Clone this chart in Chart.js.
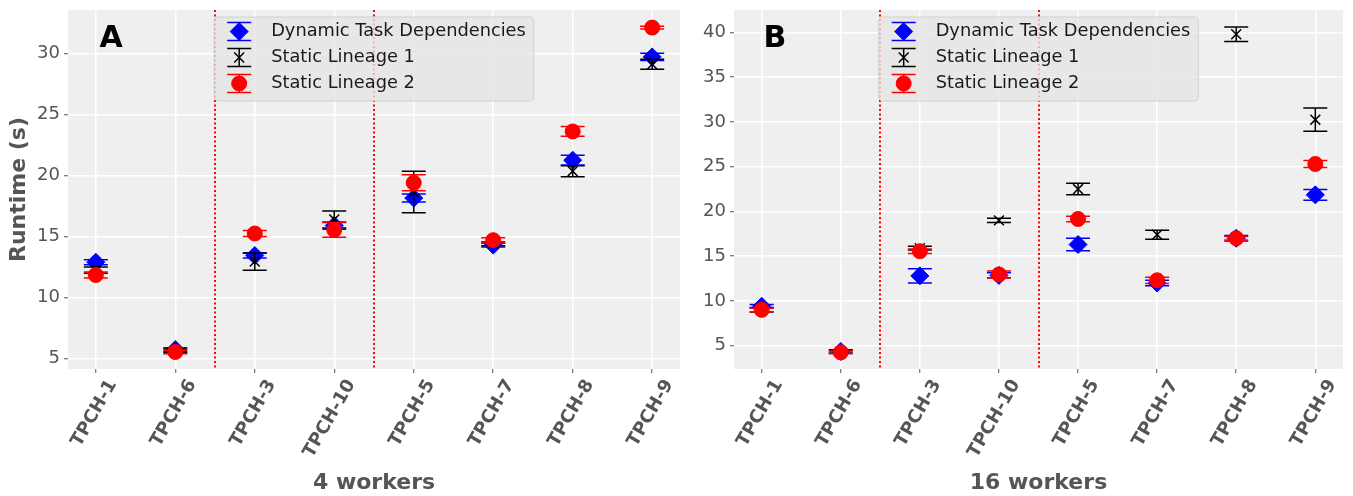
<!DOCTYPE html>
<html>
<head>
<meta charset="utf-8">
<script src="https://cdn.jsdelivr.net/npm/chart.js@4.4.0/dist/chart.umd.min.js"></script>
<style>
  body { margin: 0; background: #fff; }
  canvas { position: absolute; top: 0; }
  #chartA { left: 0; }
  #chartB { left: 690px; }
</style>
</head>
<body>
<canvas id="chartA" width="690" height="496"></canvas>
<canvas id="chartB" width="663" height="496"></canvas>
<script>
// categories and legend
const queries = ['TPCH-1', 'TPCH-6', 'TPCH-3', 'TPCH-10', 'TPCH-5', 'TPCH-7', 'TPCH-8', 'TPCH-9'];
const seriesNames = ['Dynamic Task Dependencies', 'Static Lineage 1', 'Static Lineage 2'];
const separators = [1.5, 3.5];

// 4 workers (runtime in s, error = half bar)
const dynamic4 = [12.9, 5.75, 13.45, 15.9, 18.15, 14.3, 21.25, 29.7];
const dynamic4Err = [0.2, 0.15, 0.2, 0.3, 0.33, 0.15, 0.4, 0.3];
const static1W4 = [12.25, 5.65, 12.95, 16.4, 18.65, 14.4, 20.35, 29.1];
const static1W4Err = [0.25, 0.15, 0.7, 0.7, 1.7, 0.15, 0.45, 0.4];
const static2W4 = [11.85, 5.55, 15.25, 15.55, 19.4, 14.7, 23.6, 32.1];
const static2W4Err = [0.25, 0.15, 0.25, 0.6, 0.65, 0.2, 0.4, 0.12];
const yTicksA = [5, 10, 15, 20, 25, 30];

// 16 workers
const dynamic16 = [9.4, 4.35, 12.8, 12.85, 16.3, 12.0, 17.0, 21.85];
const dynamic16Err = [0.2, 0.2, 0.8, 0.3, 0.7, 0.3, 0.3, 0.6];
const static1W16 = [9.0, 4.3, 15.9, 19.0, 22.5, 17.4, 39.8, 30.25];
const static1W16Err = [0.25, 0.15, 0.2, 0.25, 0.65, 0.5, 0.8, 1.3];
const static2W16 = [9.0, 4.25, 15.55, 12.95, 19.15, 12.3, 17.0, 25.3];
const static2W16Err = [0.2, 0.15, 0.25, 0.4, 0.3, 0.35, 0.2, 0.4];
const yTicksB = [5, 10, 15, 20, 25, 30, 35, 40];

const FONT = '"DejaVu Sans", sans-serif';
const styles = [
  { color: '#0000ff', pointStyle: 'rectRot', radius: 9, borderWidth: 1 },
  { color: '#000000', pointStyle: 'crossRot', radius: 7, borderWidth: 1.5 },
  { color: '#ff0000', pointStyle: 'circle', radius: 7.5, borderWidth: 1 }
];

// plot background
const bgPlugin = {
  id: 'bg',
  beforeDraw(chart) {
    const { ctx, chartArea: a } = chart;
    ctx.save();
    ctx.fillStyle = '#efefef';
    ctx.fillRect(a.left, a.top, a.right - a.left, a.bottom - a.top);
    ctx.restore();
  }
};

// red dotted separators between query groups
const separatorPlugin = {
  id: 'separators',
  beforeDatasetsDraw(chart) {
    const { ctx, chartArea: a } = chart;
    const xs = chart.scales.x;
    ctx.save();
    ctx.strokeStyle = '#ff0000';
    ctx.lineWidth = 2;
    ctx.setLineDash([2, 2.5]);
    separators.forEach(s => {
      const px = Math.round(xs.getPixelForValue(s));
      ctx.beginPath();
      ctx.moveTo(px, a.top);
      ctx.lineTo(px, a.bottom);
      ctx.stroke();
    });
    ctx.restore();
  }
};

// error bars under each dataset's markers
const errorBarPlugin = {
  id: 'errorBars',
  beforeDatasetDraw(chart, args) {
    const ds = chart.data.datasets[args.index];
    const xs = chart.scales.x, ys = chart.scales.y;
    const ctx = chart.ctx;
    ctx.save();
    ctx.strokeStyle = ds.borderColor;
    ctx.lineWidth = 1.5;
    ds.data.forEach((p, i) => {
      const e = ds.errors[i];
      const px = xs.getPixelForValue(p.x);
      const top = ys.getPixelForValue(p.y + e);
      const bot = ys.getPixelForValue(p.y - e);
      ctx.beginPath();
      ctx.moveTo(px, top); ctx.lineTo(px, bot);
      ctx.moveTo(px - 12, top); ctx.lineTo(px + 12, top);
      ctx.moveTo(px - 12, bot); ctx.lineTo(px + 12, bot);
      ctx.stroke();
    });
    ctx.restore();
  }
};

// matplotlib-like legend with errorbar glyphs, upper center
const legendPlugin = {
  id: 'errLegend',
  afterDatasetsDraw(chart) {
    const { ctx, chartArea: a } = chart;
    ctx.save();
    ctx.font = '17.8px ' + FONT;
    const tw = Math.max(...seriesNames.map(n => ctx.measureText(n).width));
    const w = 57 + tw + 8, h = 84;
    const left = (a.left + a.right) / 2 - w / 2, top = a.top + 7;
    ctx.beginPath();
    ctx.roundRect(left, top, w, h, 4);
    ctx.fillStyle = 'rgba(229,229,229,0.8)';
    ctx.fill();
    ctx.strokeStyle = 'rgba(204,204,204,0.8)';
    ctx.lineWidth = 1;
    ctx.stroke();
    seriesNames.forEach((name, k) => {
      const st = styles[k];
      const cy = top + 14.5 + k * 26;
      const cx = left + 25;
      ctx.strokeStyle = st.color;
      ctx.fillStyle = st.color;
      ctx.lineWidth = 1.5;
      ctx.beginPath();
      ctx.moveTo(cx, cy - 9); ctx.lineTo(cx, cy + 9);
      ctx.moveTo(cx - 12, cy - 9); ctx.lineTo(cx + 12, cy - 9);
      ctx.moveTo(cx - 12, cy + 9); ctx.lineTo(cx + 12, cy + 9);
      ctx.stroke();
      ctx.lineWidth = st.borderWidth;
      Chart.helpers.drawPoint(ctx, { pointStyle: st.pointStyle, radius: st.radius, rotation: 0, borderWidth: st.borderWidth }, cx, cy);
      ctx.fillStyle = '#1a1a1a';
      ctx.textBaseline = 'middle';
      ctx.textAlign = 'left';
      ctx.fillText(name, left + 57, cy);
    });
    ctx.restore();
  }
};

// panel letter
const letterPlugin = {
  id: 'letter',
  afterDraw(chart, args, opts) {
    const { ctx, chartArea: a } = chart;
    ctx.save();
    ctx.font = 'bold 30px ' + FONT;
    ctx.fillStyle = '#000';
    ctx.textAlign = 'center';
    ctx.textBaseline = 'middle';
    ctx.fillText(opts.text, a.left + opts.dx, a.top + 29);
    ctx.restore();
  }
};

function makeChart(id, cfg) {
  const datasets = cfg.series.map((vals, k) => ({
    label: seriesNames[k],
    data: vals.map((v, i) => ({ x: i, y: v })),
    errors: cfg.errors[k],
    pointStyle: styles[k].pointStyle,
    pointRadius: styles[k].radius,
    pointBorderWidth: styles[k].borderWidth,
    backgroundColor: styles[k].color,
    borderColor: styles[k].color,
    showLine: false,
    order: 2 - k
  }));
  return new Chart(document.getElementById(id), {
    type: 'scatter',
    data: { datasets },
    plugins: [bgPlugin, separatorPlugin, errorBarPlugin, legendPlugin, letterPlugin],
    options: {
      responsive: false,
      animation: false,
      events: [],
      layout: { padding: { top: 7, right: cfg.padRight, left: 0, bottom: 0 } },
      plugins: {
        legend: { display: false },
        tooltip: { enabled: false },
        letter: { text: cfg.letter, dx: cfg.letterDx }
      },
      scales: {
        x: {
          type: 'linear',
          min: -0.35,
          max: 7.35,
          afterBuildTicks: s => { s.ticks = queries.map((q, i) => ({ value: i })); },
          afterFit: s => { s.height = 127; s.paddingLeft = 0; s.paddingRight = 0; },
          grid: { color: '#ffffff', lineWidth: 1.5, tickColor: '#555555', tickLength: 4, tickWidth: 1 },
          border: { display: false },
          ticks: {
            autoSkip: false,
            maxRotation: 60,
            minRotation: 60,
            labelOffset: 17,
            padding: 3,
            color: '#555555',
            font: { family: FONT, size: 18, weight: 'bold' },
            callback: v => queries[v]
          },
          title: {
            display: true,
            text: cfg.xTitle,
            color: '#555555',
            font: { family: FONT, size: 22, weight: 'bold' },
            padding: { top: 0, bottom: 0 }
          }
        },
        y: {
          type: 'linear',
          min: cfg.yMin,
          max: cfg.yMax,
          afterBuildTicks: s => { s.ticks = cfg.yTicks.map(v => ({ value: v })); },
          afterFit: s => { s.width = cfg.yWidth; s.paddingTop = 0; s.paddingBottom = 0; },
          grid: { color: '#ffffff', lineWidth: 1.5, tickColor: '#555555', tickLength: 4, tickWidth: 1 },
          border: { display: false },
          ticks: {
            padding: 4,
            color: '#555555',
            font: { family: FONT, size: 18 }
          },
          title: {
            display: !!cfg.yTitle,
            text: cfg.yTitle,
            color: '#555555',
            font: { family: FONT, size: 22, weight: 'bold' },
            padding: { top: 6, bottom: 0 }
          }
        }
      }
    }
  });
}

document.addEventListener('DOMContentLoaded', () => {
  makeChart('chartA', {
    series: [dynamic4, static1W4, static2W4],
    errors: [dynamic4Err, static1W4Err, static2W4Err],
    yMin: 4.16, yMax: 33.54, yTicks: yTicksA,
    yWidth: 68, padRight: 8,
    yTitle: 'Runtime (s)', xTitle: '4 workers',
    letter: 'A', letterDx: 43
  });
  makeChart('chartB', {
    series: [dynamic16, static1W16, static2W16],
    errors: [dynamic16Err, static1W16Err, static2W16Err],
    yMin: 2.39, yMax: 42.51, yTicks: yTicksB,
    yWidth: 44, padRight: 6,
    yTitle: '', xTitle: '16 workers',
    letter: 'B', letterDx: 41
  });
});
</script>
</body>
</html>
